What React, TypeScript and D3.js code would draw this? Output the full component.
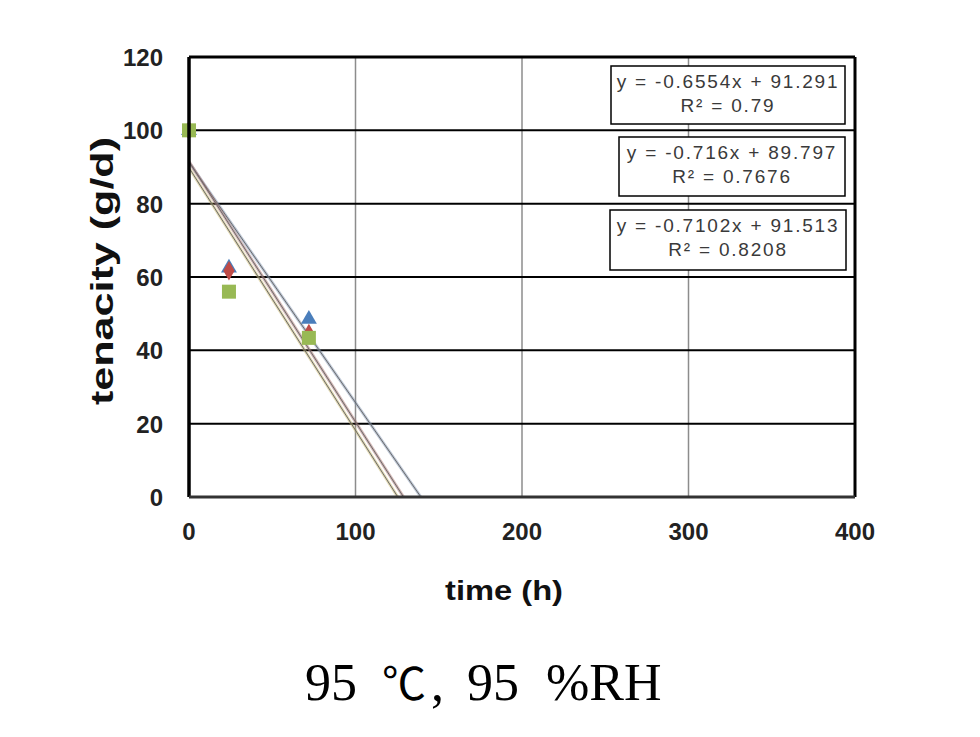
import React from "react";
import * as d3 from "d3";

const times = [0, 24, 72];
const blueVals = [100, 62.5, 48.5];
const redVals = [100, 61.7, 44.6];
const greenVals = [100, 56, 43.4];
const slopes = [-0.6554, -0.7102, -0.716];
const intercepts = [91.291, 91.513, 89.797];
const eqLabels = [
  ["y = -0.6554x + 91.291", "R² = 0.79"],
  ["y = -0.716x + 89.797", "R² = 0.7676"],
  ["y = -0.7102x + 91.513", "R² = 0.8208"],
];
const xTicks = [0, 100, 200, 300, 400];
const yTicks = [0, 20, 40, 60, 80, 100, 120];
const captionParts = ["95", "℃", ",", "95", "%RH"];

const W = 980, H = 737;
const L = 189, R = 855, T = 57, B = 497;

export default function App() {
  const x = d3.scaleLinear().domain([0, 400]).range([L, R]);
  const y = d3.scaleLinear().domain([0, 120]).range([B, T]);
  const colors = ["#4a7ebb", "#be4b48", "#98b954"];
  const lineColors = ["#7f93b0", "#a9716e", "#c8b66a"];

  const tri = d3.symbol().type(d3.symbolTriangle).size(110)();
  const dia = d3.symbol().type(d3.symbolDiamond).size(110)();

  const boxes = [
    { x0: 611, y0: 66, w: 234, h: 58 },
    { x0: 619, y0: 137, w: 226, h: 59 },
    { x0: 610, y0: 210, w: 236, h: 60 },
  ];
  const captionX = [305, 382, 431, 467, 546];
  const captionFonts = [
    "'Liberation Serif', serif",
    "'Noto Sans CJK KR', 'Noto Sans CJK SC', sans-serif",
    "'Liberation Serif', serif",
    "'Liberation Serif', serif",
    "'Liberation Serif', serif",
  ];
  const captionSizes = [52, 44, 52, 52, 52];

  return (
    <svg width={W} height={H} style={{ position: "absolute", left: 0, top: 0, background: "#fff" }}
      fontFamily="'Liberation Sans', Arial, sans-serif">
      <rect x={0} y={0} width={W} height={H} fill="#fff" />
      {xTicks.slice(1, -1).map((t) => (
        <line key={"vx" + t} x1={x(t)} x2={x(t)} y1={T} y2={B} stroke="#8c8c8c" strokeWidth={1.5} />
      ))}
      {yTicks.slice(1, -1).map((t) => (
        <line key={"hy" + t} x1={L} x2={R} y1={y(t)} y2={y(t)} stroke="#000" strokeWidth={2} />
      ))}
      {slopes.map((s, i) => {
        const xEnd = -intercepts[i] / s;
        return (
          <g key={"tl" + i}>
            <line x1={x(0)} y1={y(intercepts[i])} x2={x(xEnd)} y2={y(0)} stroke={lineColors[i]} strokeWidth={3} opacity={0.5} />
            <line x1={x(0)} y1={y(intercepts[i])} x2={x(xEnd)} y2={y(0)} stroke="#6a6a6a" strokeWidth={1} />
          </g>
        );
      })}
      {times.map((t, j) => (
        <path key={"b" + j} d={tri} transform={`translate(${x(t)},${y(blueVals[j])})`} fill={colors[0]} />
      ))}
      {times.map((t, j) => (
        <path key={"r" + j} d={dia} transform={`translate(${x(t)},${y(redVals[j])})`} fill={colors[1]} />
      ))}
      {times.map((t, j) => (
        <rect key={"g" + j} x={x(t) - 7} y={y(greenVals[j]) - 7} width={14} height={14} fill={colors[2]} />
      ))}
      <line x1={L} x2={R} y1={T} y2={T} stroke="#000" strokeWidth={3} />
      <line x1={R} x2={R} y1={T} y2={B} stroke="#000" strokeWidth={3} />
      <line x1={L} x2={L} y1={T} y2={B} stroke="#000" strokeWidth={3.5} />
      <line x1={L} x2={R} y1={B} y2={B} stroke="#333" strokeWidth={3} />
      {boxes.map((b, i) => (
        <g key={"eq" + i}>
          <rect x={b.x0} y={b.y0} width={b.w} height={b.h} fill="#fff" stroke="#000" strokeWidth={1.5} />
          <text x={b.x0 + b.w / 2} y={b.y0 + 22} textAnchor="middle" fontSize={19} letterSpacing={1.8} fill="#3a3a3a">{eqLabels[i][0]}</text>
          <text x={b.x0 + b.w / 2} y={b.y0 + 46} textAnchor="middle" fontSize={19} letterSpacing={1.8} fill="#3a3a3a">{eqLabels[i][1]}</text>
        </g>
      ))}
      {yTicks.map((t) => (
        <text key={"yt" + t} x={163} y={y(t) + 9} textAnchor="end" fontSize={24} fontWeight="bold" fill="#222">{t}</text>
      ))}
      {xTicks.map((t) => (
        <text key={"xt" + t} x={x(t)} y={540} textAnchor="middle" fontSize={24} fontWeight="bold" fill="#222">{t}</text>
      ))}
      <text x={504} y={600} textAnchor="middle" fontSize={28} fontWeight="bold" textLength={118} lengthAdjust="spacingAndGlyphs" fill="#111">time (h)</text>
      <text transform="translate(113,271) rotate(-90)" textAnchor="middle" fontSize={32} fontWeight="bold" textLength={268} lengthAdjust="spacingAndGlyphs" fill="#111">tenacity (g/d)</text>
      {captionParts.map((p, i) => (
        <text key={"c" + i} x={captionX[i]} y={700} fontSize={captionSizes[i]} fontFamily={captionFonts[i]} fill="#000">{p}</text>
      ))}
    </svg>
  );
}
